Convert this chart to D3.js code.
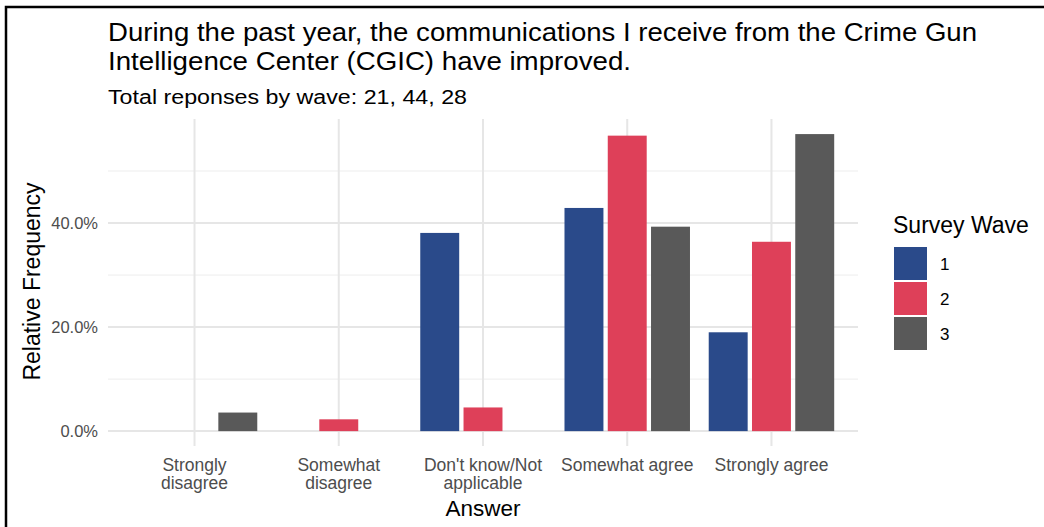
<!DOCTYPE html>
<html>
<head>
<meta charset="utf-8">
<script src="https://cdn.jsdelivr.net/npm/d3@7"></script>
<style>
  body { margin: 0; background: #fff; }
  svg { display: block; font-family: "Liberation Sans", Arial, sans-serif; }
</style>
</head>
<body>
<svg id="chart" width="1044" height="527"></svg>
<script>
// answers on the x axis
var answers = [
  ["Strongly", "disagree"],
  ["Somewhat", "disagree"],
  ["Don't know/Not", "applicable"],
  ["Somewhat agree"],
  ["Strongly agree"]
];
var waves = ["1", "2", "3"];
var waveColors = ["#2a4a8a", "#de4059", "#595959"];
// relative frequency per wave, one entry per answer
var wave1 = [0, 0, 0.381, 0.429, 0.190];
var wave2 = [0, 0.0227, 0.0455, 0.568, 0.364];
var wave3 = [0.0357, 0, 0, 0.393, 0.571];
var yTicks = [0, 0.2, 0.4];
var yMinor = [0.1, 0.3, 0.5];

var svg = d3.select("#chart");

// frame of the screenshot
svg.append("rect").attr("x", 6).attr("y", 7).attr("width", 1100).attr("height", 600)
  .attr("fill", "none").attr("stroke", "#000").attr("stroke-width", 2.5);

var pLeft = 108, pRight = 858, pTop = 119, pBottom = 446;

// bands of width 1 around each answer, plus 0.1 outer padding (ggplot's 0.6 expansion)
var x = d3.scaleBand().domain(d3.range(answers.length))
  .range([pLeft, pRight]).paddingOuter(0.1).paddingInner(0);
var x2 = d3.scaleBand().domain(waves).range([0, x.bandwidth() * 0.9]).paddingInner(0.1).paddingOuter(0.05);

var y = d3.scaleLinear().domain([-0.0286, 0.6]).range([pBottom, pTop]);

var grid = svg.append("g");
yMinor.forEach(function(t) {
  grid.append("line").attr("x1", pLeft).attr("x2", pRight).attr("y1", y(t)).attr("y2", y(t))
    .attr("stroke", "#ededed").attr("stroke-width", 1);
});
yTicks.forEach(function(t) {
  grid.append("line").attr("x1", pLeft).attr("x2", pRight).attr("y1", y(t)).attr("y2", y(t))
    .attr("stroke", "#e6e6e6").attr("stroke-width", 2);
});
answers.forEach(function(a, i) {
  var cx = x(i) + x.bandwidth() / 2;
  grid.append("line").attr("x1", cx).attr("x2", cx).attr("y1", pTop).attr("y2", pBottom)
    .attr("stroke", "#e6e6e6").attr("stroke-width", 2);
});

var series = [wave1, wave2, wave3];
series.forEach(function(vals, w) {
  vals.forEach(function(v, i) {
    if (v <= 0) return;
    var gx = x(i) + x.bandwidth() * 0.05;
    svg.append("rect")
      .attr("x", gx + x2(waves[w]))
      .attr("width", x2.bandwidth())
      .attr("y", y(v))
      .attr("height", y(0) - y(v))
      .attr("fill", waveColors[w]);
  });
});

// y tick labels
yTicks.forEach(function(t) {
  svg.append("text").attr("x", 98).attr("y", y(t)).attr("dy", "0.35em")
    .attr("text-anchor", "end").attr("font-size", 16.5).attr("fill", "#4d4d4d")
    .text(d3.format(".1%")(t));
});

// x tick labels
answers.forEach(function(lines, i) {
  var cx = x(i) + x.bandwidth() / 2;
  var t = svg.append("text").attr("text-anchor", "middle").attr("font-size", 17.5).attr("fill", "#4d4d4d");
  lines.forEach(function(l, k) {
    t.append("tspan").attr("x", cx).attr("y", 470.5 + k * 18).text(l);
  });
});

// titles
svg.append("text").attr("x", 108).attr("y", 41).attr("font-size", 25).attr("fill", "#000")
  .attr("textLength", 869).attr("lengthAdjust", "spacingAndGlyphs")
  .text("During the past year, the communications I receive from the Crime Gun");
svg.append("text").attr("x", 108).attr("y", 70).attr("font-size", 25).attr("fill", "#000")
  .attr("textLength", 523).attr("lengthAdjust", "spacingAndGlyphs")
  .text("Intelligence Center (CGIC) have improved.");
svg.append("text").attr("x", 108).attr("y", 103.5).attr("font-size", 20).attr("fill", "#000")
  .attr("textLength", 359).attr("lengthAdjust", "spacingAndGlyphs")
  .text("Total reponses by wave: 21, 44, 28");

svg.append("text").attr("x", (pLeft + pRight) / 2).attr("y", 516).attr("text-anchor", "middle")
  .attr("font-size", 22.5).attr("fill", "#000").text("Answer");
svg.append("text").attr("transform", "translate(40," + ((pTop + pBottom) / 2 - 1) + ") rotate(-90)")
  .attr("text-anchor", "middle").attr("font-size", 23).attr("fill", "#000").text("Relative Frequency");

// legend
var lg = svg.append("g").attr("transform", "translate(893,0)");
lg.append("text").attr("x", 0).attr("y", 233).attr("font-size", 23).attr("fill", "#000").text("Survey Wave");
waves.forEach(function(w, i) {
  lg.append("rect").attr("x", 1).attr("y", 247 + i * 35).attr("width", 33).attr("height", 33)
    .attr("fill", waveColors[i]);
  lg.append("text").attr("x", 47).attr("y", 264 + i * 35).attr("dy", "0.35em")
    .attr("font-size", 17).attr("fill", "#000").text(w);
});
</script>
</body>
</html>
